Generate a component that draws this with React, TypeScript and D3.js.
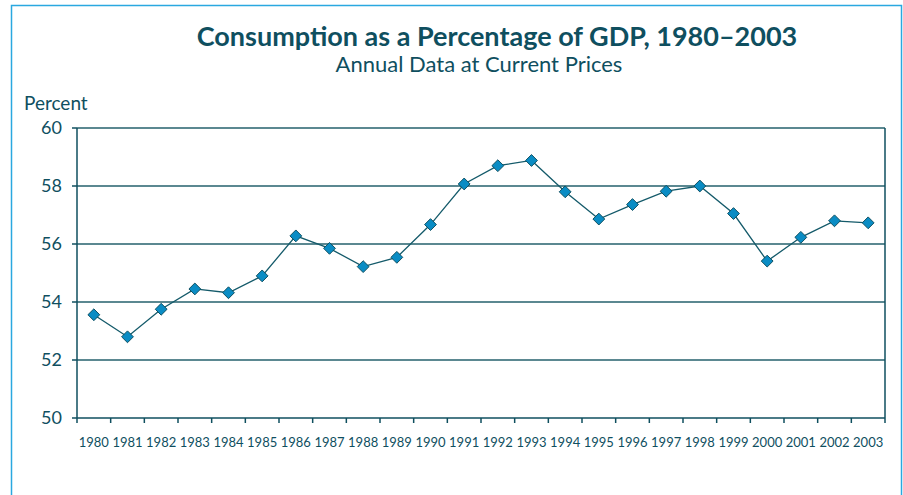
import React, { useRef, useEffect } from "react";
import * as d3 from "d3";

const years = ["1980","1981","1982","1983","1984","1985","1986","1987","1988","1989","1990","1991","1992","1993","1994","1995","1996","1997","1998","1999","2000","2001","2002","2003"];
const consumption = [53.56,52.8,53.75,54.45,54.32,54.9,56.28,55.85,55.22,55.54,56.67,58.07,58.7,58.88,57.8,56.86,57.36,57.82,58.0,57.05,55.41,56.23,56.8,56.73];
const yTicks = [50,52,54,56,58,60];

const W = 903, H = 495;
const M = { left: 77, right: 885, top: 128, bottom: 418 };
const DARK = "#0f4f5f";
const FONT = "Lato, 'Open Sans', sans-serif";

export default function App() {
  const ref = useRef<SVGSVGElement>(null);
  useEffect(() => {
    const svg = d3.select(ref.current);
    svg.selectAll("*").remove();
    svg.append("rect").attr("x", 11.5).attr("y", 5.5).attr("width", 890).attr("height", 500)
      .attr("fill", "white").attr("stroke", "#2aa8e0").attr("stroke-width", 1.5);

    const x = d3.scaleBand<string>().domain(years).range([M.left, M.right]);
    const y = d3.scaleLinear().domain([50, 60]).range([M.bottom, M.top]);

    svg.append("text").attr("x", 497).attr("y", 46).attr("text-anchor", "middle")
      .attr("font-family", FONT).attr("font-weight", "bold").attr("font-size", 27)
      .attr("fill", DARK).text("Consumption as a Percentage of GDP, 1980–2003");
    svg.append("text").attr("x", 479).attr("y", 72).attr("text-anchor", "middle")
      .attr("font-family", FONT).attr("font-size", 22)
      .attr("fill", DARK).text("Annual Data at Current Prices");
    svg.append("text").attr("x", 24).attr("y", 110)
      .attr("font-family", FONT).attr("font-size", 19)
      .attr("fill", DARK).text("Percent");

    svg.append("g").selectAll("line").data(yTicks.filter(t => t > 50)).join("line")
      .attr("x1", M.left).attr("x2", M.right).attr("y1", d => y(d)).attr("y2", d => y(d))
      .attr("stroke", "#24606c").attr("stroke-width", 1.5);
    svg.append("line").attr("x1", M.left).attr("x2", M.left).attr("y1", M.top).attr("y2", M.bottom)
      .attr("stroke", DARK).attr("stroke-width", 1.5);
    svg.append("line").attr("x1", M.right).attr("x2", M.right).attr("y1", M.top).attr("y2", M.bottom)
      .attr("stroke", DARK).attr("stroke-width", 1.5);
    svg.append("line").attr("x1", M.left).attr("x2", M.right).attr("y1", M.bottom).attr("y2", M.bottom)
      .attr("stroke", DARK).attr("stroke-width", 1.5);

    svg.append("g").selectAll("line").data(yTicks).join("line")
      .attr("x1", M.left - 5).attr("x2", M.left).attr("y1", d => y(d)).attr("y2", d => y(d))
      .attr("stroke", DARK).attr("stroke-width", 1.5);
    svg.append("g").selectAll("text").data(yTicks).join("text")
      .attr("x", 62).attr("y", d => y(d)).attr("dy", "0.36em").attr("text-anchor", "end")
      .attr("font-family", FONT).attr("font-size", 18).attr("fill", DARK).text(d => String(d));

    const bounds = years.map(d => x(d)!).concat([M.right]);
    svg.append("g").selectAll("line").data(bounds).join("line")
      .attr("x1", d => d).attr("x2", d => d).attr("y1", M.bottom).attr("y2", M.bottom + 5)
      .attr("stroke", DARK).attr("stroke-width", 1.5);
    svg.append("g").selectAll("text").data(years).join("text")
      .attr("x", d => x(d)! + x.bandwidth() / 2).attr("y", 447).attr("text-anchor", "middle")
      .attr("font-family", FONT).attr("font-size", 13).attr("fill", DARK).text(d => d);

    const cx = (i: number) => x(years[i])! + x.bandwidth() / 2;
    const line = d3.line<number>().x((_, i) => cx(i)).y(d => y(d));
    svg.append("path").datum(consumption).attr("d", line).attr("fill", "none")
      .attr("stroke", "#145a6a").attr("stroke-width", 1.3);

    const sym = d3.symbol().type(d3.symbolSquare).size(70);
    svg.append("g").selectAll("path").data(consumption).join("path")
      .attr("d", sym).attr("transform", (d, i) => `translate(${cx(i)},${y(d)}) rotate(45)`)
      .attr("fill", "#0a8cc4").attr("stroke", "#0c4c5c").attr("stroke-width", 0.9);
  }, []);
  return <svg ref={ref} width={W} height={H} style={{ position: "absolute", left: 0, top: 0 }} />;
}
